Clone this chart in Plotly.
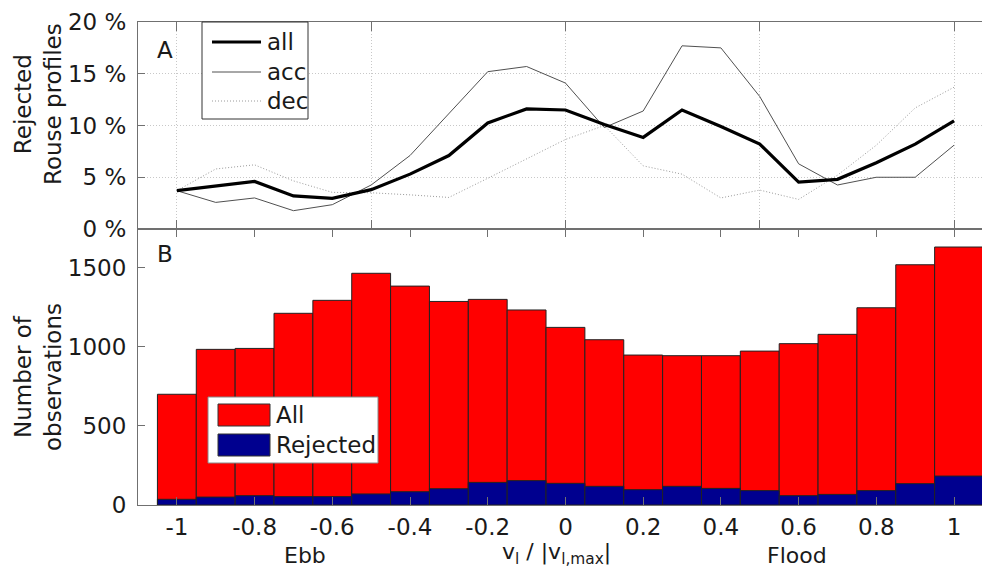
import plotly.graph_objects as go

# ---------------- data ----------------
x_vals = [-1.0, -0.9, -0.8, -0.7, -0.6, -0.5, -0.4, -0.3, -0.2, -0.1, 0.0,
          0.1, 0.2, 0.3, 0.4, 0.5, 0.6, 0.7, 0.8, 0.9, 1.0]

rej_all = [3.7, 4.15, 4.6, 3.2, 2.96, 3.8, 5.3, 7.1, 10.25, 11.6, 11.5,
           10.1, 8.85, 11.5, 9.9, 8.2, 4.53, 4.8, 6.4, 8.2, 10.45]
rej_acc = [3.7, 2.57, 3.0, 1.77, 2.35, 4.25, 7.1, 11.1, 15.2, 15.7, 14.1,
           9.8, 11.4, 17.7, 17.5, 12.8, 6.3, 4.25, 5.0, 5.0, 8.1]
rej_dec = [3.7, 5.8, 6.2, 4.65, 3.54, 3.5, 3.3, 3.05, 4.9, 6.8, 8.65,
           10.0, 6.1, 5.3, 3.0, 3.76, 2.86, 5.2, 8.1, 11.7, 13.7]

n_all = [700, 984, 990, 1212, 1294, 1465, 1384, 1287, 1300, 1233, 1123,
         1045, 948, 944, 944, 973, 1020, 1079, 1247, 1519, 1631]
n_rej = [36, 50, 59, 53, 53, 70, 84, 103, 143, 154, 137,
         118, 97, 118, 105, 91, 59, 67, 91, 135, 183]

x_ticks_b = [-1, -0.8, -0.6, -0.4, -0.2, 0, 0.2, 0.4, 0.6, 0.8, 1]
x_ticks_a = [-1, -0.5, 0, 0.5, 1]
y_ticks_a = [0, 5, 10, 15, 20]
y_ticks_b = [0, 500, 1000, 1500]

# ---------------- layout helpers ----------------
W, H = 982, 570
ML, MR, MT, MB = 138, 0, 22, 65
PW, PH = W - ML - MR, H - MT - MB
Y_SPLIT = 229  # pixel row shared by both panels


def px_x(p):
    return (p - ML) / PW


def px_y(p):
    return (H - MB - p) / PH


FONT = "DejaVu Sans, Verdana, sans-serif"
AX_COL = "#707070"
GRID_COL = "#c8c8c8"
GRID_DASH = "1px,2px"
DEC_COL = "#9a9a9a"
FS = 23
TXT = "#1a1a1a"

widths = [0.1] * (len(x_vals) - 1) + [0.2]
offsets = [-0.05] * len(x_vals)

fig = go.Figure()

# Panel A lines
fig.add_trace(go.Scatter(x=x_vals, y=rej_dec, mode="lines", name="dec",
                         line=dict(color=DEC_COL, width=1, dash="1px,2px"),
                         xaxis="x", yaxis="y", showlegend=False))
fig.add_trace(go.Scatter(x=x_vals, y=rej_acc, mode="lines", name="acc",
                         line=dict(color="#505050", width=1),
                         xaxis="x", yaxis="y", showlegend=False))
fig.add_trace(go.Scatter(x=x_vals, y=rej_all, mode="lines", name="all",
                         line=dict(color="#000000", width=3.2),
                         xaxis="x", yaxis="y", showlegend=False))

# Panel B bars
fig.add_trace(go.Bar(x=x_vals, y=n_all, width=widths, offset=offsets, name="All",
                     marker=dict(color="#ff0000", line=dict(color="#222222", width=1)),
                     xaxis="x2", yaxis="y2", showlegend=False))
fig.add_trace(go.Bar(x=x_vals, y=n_rej, width=widths, offset=offsets, name="Rejected",
                     marker=dict(color="#00008f", line=dict(color="#222222", width=1)),
                     xaxis="x2", yaxis="y2", showlegend=False))

split = px_y(Y_SPLIT)
xr = [-1.1, -1.1 + PW / 388.6]

axis_common = dict(showline=True, linecolor=AX_COL, linewidth=1, ticks="inside",
                   tickcolor=AX_COL, tickwidth=1, zeroline=False,
                   tickfont=dict(family=FONT, size=FS, color=TXT))

fig.update_layout(
    width=W, height=H,
    margin=dict(l=ML, r=MR, t=MT, b=MB),
    paper_bgcolor="white", plot_bgcolor="white",
    barmode="overlay",
    font=dict(family=FONT, size=FS, color=TXT),
    xaxis=dict(domain=[0, 1], range=xr, anchor="y", tickvals=x_ticks_a,
               showticklabels=False, mirror="ticks", ticklen=9,
               showgrid=True, gridcolor=GRID_COL, griddash=GRID_DASH, gridwidth=1,
               **axis_common),
    yaxis=dict(domain=[split, 1], range=[0, 20], anchor="x", tickvals=y_ticks_a,
               ticktext=[f"{v} %" for v in y_ticks_a], ticklen=7,
               showgrid=True, gridcolor=GRID_COL, griddash=GRID_DASH, gridwidth=1,
               ticklabelstandoff=6, **axis_common),
    xaxis2=dict(domain=[0, 1], range=xr, anchor="y2", tickvals=x_ticks_b,
                ticktext=[f"{v:g}" for v in x_ticks_b], mirror="ticks", ticklen=8,
                showgrid=False, ticklabelstandoff=1, **axis_common),
    yaxis2=dict(domain=[0, split], range=[0, 1745], anchor="x2", tickvals=y_ticks_b,
                ticklen=7, showgrid=False, ticklabelstandoff=6, **axis_common),
)

ann = []
# panel letters
ann.append(dict(text="A", x=px_x(165), y=px_y(50)))
ann.append(dict(text="B", x=px_x(165), y=px_y(254)))
# y titles
ann.append(dict(text="Rejected<br>Rouse profiles", x=px_x(38), y=px_y(104), textangle=-90))
ann.append(dict(text="Number of<br>observations", x=px_x(38), y=px_y(377), textangle=-90))
# x labels
ann.append(dict(text="Ebb", x=px_x(305), y=px_y(555), size=22))
ann.append(dict(text="v<sub>l</sub> / |v<sub>l,max</sub>|", x=px_x(556), y=px_y(553), size=22))
ann.append(dict(text="Flood", x=px_x(797), y=px_y(555), size=22))
# legend A texts
for lbl, yy in [("all", 42), ("acc", 72), ("dec", 101)]:
    ann.append(dict(text=lbl, x=px_x(265), y=px_y(yy), xanchor="left"))
# legend B texts
for lbl, yy in [("All", 415), ("Rejected", 445)]:
    ann.append(dict(text=lbl, x=px_x(274), y=px_y(yy), xanchor="left"))

for a in ann:
    a.setdefault("xanchor", "center")
    sz = a.pop("size", FS)
    a.update(xref="paper", yref="paper", yanchor="middle", showarrow=False,
             font=dict(family=FONT, size=sz, color=TXT))
fig.update_layout(annotations=ann)

shapes = []
# legend A box
shapes.append(dict(type="rect", x0=px_x(202), x1=px_x(308), y0=px_y(22), y1=px_y(119),
                   line=dict(color="#333333", width=1), fillcolor="white"))
shapes.append(dict(type="line", x0=px_x(212), x1=px_x(261), y0=px_y(42), y1=px_y(42),
                   line=dict(color="#000000", width=3.2)))
shapes.append(dict(type="line", x0=px_x(212), x1=px_x(261), y0=px_y(72), y1=px_y(72),
                   line=dict(color="#505050", width=1)))
shapes.append(dict(type="line", x0=px_x(212), x1=px_x(261), y0=px_y(101), y1=px_y(101),
                   line=dict(color=DEC_COL, width=1, dash="1px,2px")))
# legend B box
shapes.append(dict(type="rect", x0=px_x(208), x1=px_x(378), y0=px_y(397), y1=px_y(463),
                   line=dict(color="#888888", width=1), fillcolor="white"))
shapes.append(dict(type="rect", x0=px_x(218), x1=px_x(270), y0=px_y(404), y1=px_y(426),
                   line=dict(color="#333333", width=1), fillcolor="#ff0000"))
shapes.append(dict(type="rect", x0=px_x(218), x1=px_x(270), y0=px_y(434), y1=px_y(456),
                   line=dict(color="#333333", width=1), fillcolor="#00008f"))
for s in shapes:
    s.update(xref="paper", yref="paper", layer="above")
fig.update_layout(shapes=shapes)

fig.write_html("out.html")
